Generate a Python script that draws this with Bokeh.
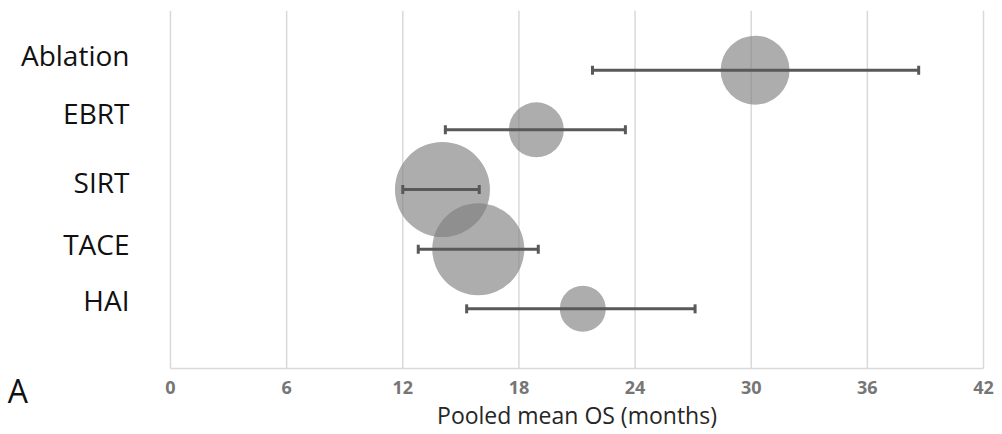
from bokeh.plotting import figure
from bokeh.models import ColumnDataSource, Whisker, FixedTicker, Label, TeeHead
from bokeh.embed import file_html
from bokeh.resources import INLINE

# ---- data ----
treatments = ["Ablation", "EBRT", "SIRT", "TACE", "HAI"]
row = [5, 4, 3, 2, 1]
pooled_os = [30.2, 18.9, 14.05, 15.9, 21.3]
ci_low = [21.8, 14.2, 12.0, 12.8, 15.3]
ci_high = [38.65, 23.5, 15.95, 19.0, 27.1]
bubble = [69, 55, 95, 92, 46]
x_ticks = [0, 6, 12, 18, 24, 30, 36, 42]

# layout: where the category labels sit (they are slightly above their rows)
label_pos = [5.26, 4.29, 3.12, 2.09, 1.14]
X_MIN, X_MAX = 0, 42
Y_MIN, Y_MAX = 0, 6

FONT = "Open Sans"

src = ColumnDataSource(dict(name=treatments, row=row, os=pooled_os,
                            lo=ci_low, hi=ci_high, size=bubble))
grid_src = ColumnDataSource(dict(x=x_ticks,
                                 y0=[Y_MIN] * len(x_ticks),
                                 y1=[Y_MAX] * len(x_ticks)))

# the frame covers the whole page; axes are pinned inside it
p = figure(width=1002, height=434, x_range=(-8.78, 42.98), y_range=(-1.106, 6),
           output_backend="svg", toolbar_location=None,
           min_border_left=0, min_border_right=0,
           min_border_top=10, min_border_bottom=0)
p.outline_line_color = None
p.background_fill_color = "white"
p.border_fill_color = "white"
p.xgrid.visible = False
p.ygrid.visible = False

# x axis
p.xaxis.fixed_location = Y_MIN
p.xaxis.bounds = (X_MIN, X_MAX)
p.xaxis.ticker = FixedTicker(ticks=x_ticks)
p.xaxis.major_tick_line_color = None
p.xaxis.minor_tick_line_color = None
p.xaxis.axis_line_color = "#d9d9d9"
p.xaxis.axis_line_width = 1.5
p.xaxis.major_label_standoff = 6
p.xaxis.major_label_text_font = FONT
p.xaxis.major_label_text_font_size = "18px"
p.xaxis.major_label_text_font_style = "bold"
p.xaxis.major_label_text_color = "#767676"
p.xaxis.axis_label = "Pooled mean OS (months)"
p.xaxis.axis_label_text_font = FONT
p.xaxis.axis_label_text_font_size = "23px"
p.xaxis.axis_label_text_font_style = "normal"
p.xaxis.axis_label_text_color = "#262626"
p.xaxis.axis_label_standoff = 2

# y axis with category labels
p.yaxis.fixed_location = X_MIN
p.yaxis.bounds = (Y_MIN, Y_MAX)
p.yaxis.ticker = FixedTicker(ticks=label_pos)
p.yaxis.major_label_overrides = {v: n for v, n in zip(label_pos, treatments)}
p.yaxis.axis_line_color = None
p.yaxis.major_tick_line_color = None
p.yaxis.minor_tick_line_color = None
p.yaxis.major_label_standoff = 35
p.yaxis.major_label_text_font = FONT
p.yaxis.major_label_text_font_size = "28px"
p.yaxis.major_label_text_color = "#111111"

# vertical gridlines, from the tick values
p.segment(x0="x", y0="y0", x1="x", y1="y1", source=grid_src,
          line_color="#d9d9d9", line_width=1.5, level="underlay")

# bubbles
p.scatter(x="os", y="row", size="size", source=src, marker="circle",
          fill_color="#7f7f7f", fill_alpha=0.64, line_color=None)

# error bars
w = Whisker(source=src, base="row", lower="lo", upper="hi", dimension="width",
            line_color="#595959", line_width=3, level="overlay",
            upper_head=TeeHead(size=9, line_color="#595959", line_width=3),
            lower_head=TeeHead(size=9, line_color="#595959", line_width=3))
p.add_layout(w)

# panel letter
p.add_layout(Label(x=-8.4, y=-0.37, text="A",
                   text_font=FONT, text_font_size="32px", text_color="#111111",
                   text_align="left", text_baseline="middle"))

open("out.html", "w").write(file_html(p, INLINE))
